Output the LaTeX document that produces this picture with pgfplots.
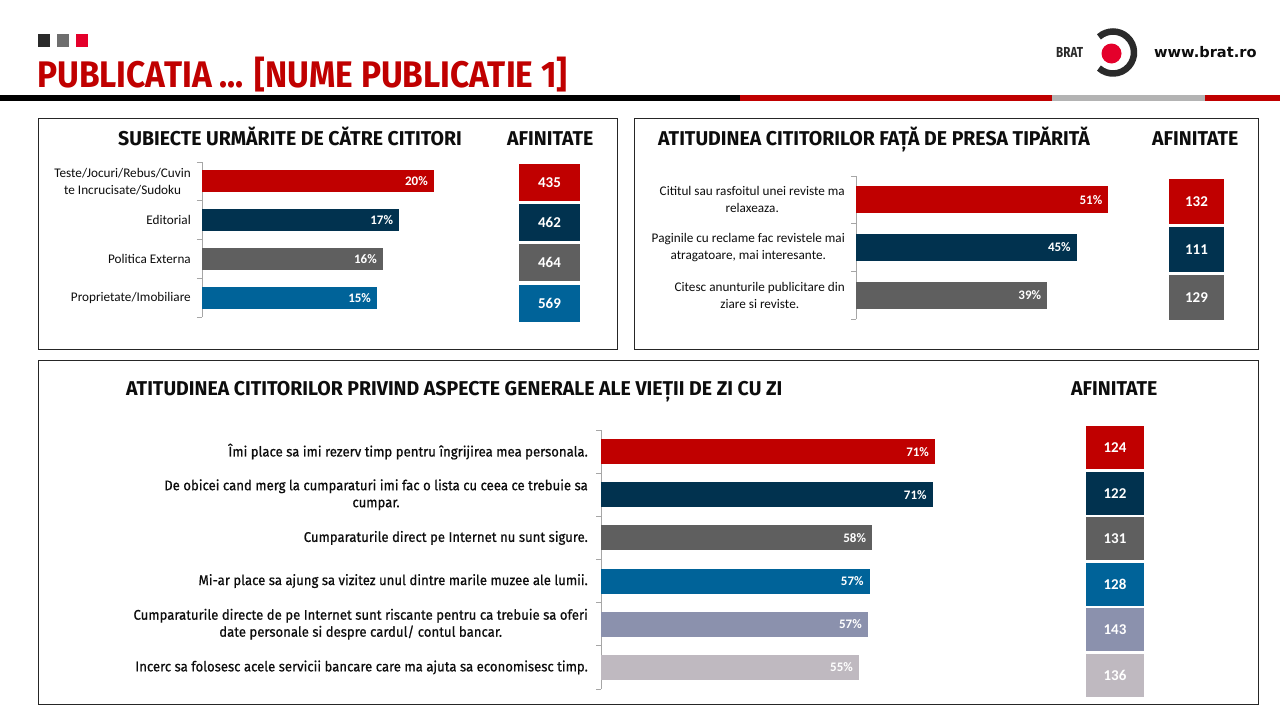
\documentclass[border=0pt]{standalone}
\usepackage{fontspec}
\setmainfont{Carlito}
\newfontfamily\dinT[FakeStretch=0.905]{Fira Sans}
\newfontfamily\dinS[FakeStretch=0.975]{Fira Sans}
\newfontfamily\dinB[FakeStretch=0.8]{Fira Sans}
\newfontfamily\dinl[FakeStretch=0.94,FakeBold=0.6]{Fira Sans}
\newfontfamily\dejab{DejaVu Sans}
\usepackage{pgfplots}
\pgfplotsset{compat=1.18}
\definecolor{cRed}{HTML}{C00000}
\definecolor{cNavy}{HTML}{01324F}
\definecolor{cGray}{HTML}{5F5F5F}
\definecolor{cBlue}{HTML}{006399}
\definecolor{cLav}{HTML}{8B91AD}
\definecolor{cLight}{HTML}{BFB9C0}
\definecolor{sqDark}{HTML}{2A2A2A}
\definecolor{sqGray}{HTML}{6E6E6E}
\definecolor{sqRed}{HTML}{E4002B}
\definecolor{bandGray}{HTML}{B3B3B3}
\definecolor{axGray}{HTML}{A6A6A6}
\definecolor{txt}{HTML}{0D0D0D}
\newcommand\lab{\fontsize{13.2}{17}\selectfont}
\newcommand\labd{\dinl\fontsize{14}{17}\selectfont}
\newcommand\val{\bfseries\fontsize{13}{13}\selectfont}
\newcommand\aff{\bfseries\fontsize{15}{15}\selectfont}
\newcommand\ttl{\dinS\bfseries\fontsize{20}{20}\selectfont}
\pgfplotsset{
  barax/.style={scale only axis, xbar, bar shift=0pt, axis x line=none, axis y line*=left,
    y dir=reverse, xmin=0, ymin=0.5, enlargelimits=false, clip=false,
    /pgf/number format/assume math mode=true,
    axis line style={draw=axGray, line width=1pt},
    major tick length=0pt, minor tick length=5pt, tick align=outside,
    minor tick style={draw=axGray, line width=1pt}, xtick=\empty,
    yticklabel style={align=center, inner sep=0pt, xshift=-11pt, text=txt},
    point meta=x,
    nodes near coords={\pgfmathprintnumber[fixed,precision=0,assume math mode=true]{\pgfplotspointmeta}\%},
    every node near coord/.style={anchor=east, xshift=-6pt, inner sep=0pt, text=white, font=\val}},
  affax/.style={scale only axis, xbar, bar shift=0pt, hide axis, y dir=reverse,
    xmin=0, xmax=1, ymin=0.5, enlargelimits=false, clip=false,
    /pgf/number format/assume math mode=true,
    point meta=explicit,
    nodes near coords={\pgfmathprintnumber[fixed,precision=0,assume math mode=true]{\pgfplotspointmeta}}}
}
\begin{document}
\begin{tikzpicture}
\useasboundingbox (0,0) rectangle (1280pt,-720pt);
\fill[white] (0,0) rectangle (1280pt,-720pt);
\begin{scope}[x=1pt,y=-1pt]
  % header squares
  \fill[sqDark] (38,34) rectangle (50,47);
  \fill[sqGray] (57,34) rectangle (69,47);
  \fill[sqRed] (76,34) rectangle (88,47);
  \node[anchor=base west, inner sep=0pt, text=cRed, font=\dinT\bfseries\fontsize{37}{37}\selectfont] at (37,87.5) {PUBLICATIA ... [NUME PUBLICATIE 1]};
  % band
  \fill[black] (0,95) rectangle (740,101);
  \fill[cRed] (740,95) rectangle (1052,101);
  \fill[bandGray] (1052,95) rectangle (1205,101);
  \fill[cRed] (1205,95) rectangle (1280,101);
  % logo
  \node[anchor=base west, inner sep=0pt, text=sqDark, font=\dinB\bfseries\fontsize{14.5}{14.5}\selectfont] at (1056,57.7) {BRAT};
  \fill[sqRed] (1111.5,53.5) circle (10);
  \draw[line width=6.5pt, sqDark] (1113,52.5) ++(132:21) arc[start angle=132, end angle=-132, radius=21];
  \node[anchor=base west, inner sep=0pt, text=txt, font=\dejab\bfseries\fontsize{14.6}{14.6}\selectfont] at (1154,57) {www.brat.ro};
  % panels
  \draw[line width=1pt, black!85] (38,118) rectangle (617,349);
  \draw[line width=1pt, black!85] (634,118) rectangle (1258,349);
  \draw[line width=1pt, black!85] (38,360) rectangle (1258,704);
  % titles
  \node[anchor=base west, inner sep=0pt, text=txt, font=\ttl] at (118,145.5) {SUBIECTE URMĂRITE DE CĂTRE CITITORI};
  \node[anchor=base west, inner sep=0pt, text=txt, font=\ttl] at (507,145.5) {AFINITATE};
  \node[anchor=base west, inner sep=0pt, text=txt, font=\ttl] at (658,145.5) {ATITUDINEA CITITORILOR FAȚĂ DE PRESA TIPĂRITĂ};
  \node[anchor=base west, inner sep=0pt, text=txt, font=\ttl] at (1152,145.5) {AFINITATE};
  \node[anchor=base west, inner sep=0pt, text=txt, font=\ttl] at (126,395) {ATITUDINEA CITITORILOR PRIVIND ASPECTE GENERALE ALE VIEȚII DE ZI CU ZI};
  \node[anchor=base west, inner sep=0pt, text=txt, font=\ttl] at (1071,395) {AFINITATE};
\end{scope}

% ---------- Panel 1 bars
\begin{axis}[barax, at={(202pt,-162pt)}, anchor=north west, width=290pt, height=155pt,
  xmax=25, ymax=4.5, bar width=22pt, ytick={1,2,3,4}, minor ytick={0.5,1.5,2.5,3.5,4.5},
  yticklabels={{Teste/Jocuri/Rebus/Cuvin\\te Incrucisate/Sudoku},{Editorial},{Politica Externa},{Proprietate/Imobiliare}},
  yticklabel style={font=\lab}]
\addplot[fill=cRed, draw=none] coordinates {(20.0,1)};
\addplot[fill=cNavy, draw=none] coordinates {(17.0,2)};
\addplot[fill=cGray, draw=none] coordinates {(15.6,3)};
\addplot[fill=cBlue, draw=none] coordinates {(15.1,4)};
\end{axis}
\begin{axis}[affax, at={(519pt,-162.4pt)}, anchor=north west, width=61pt, height=160.8pt,
  ymax=4.5, bar width=37pt,
  every node near coord/.style={anchor=center, xshift=-30.5pt, inner sep=0pt, text=white, font=\aff}]
\addplot[fill=cRed, draw=none] coordinates {(1,1) [435]};
\addplot[fill=cNavy, draw=none] coordinates {(1,2) [462]};
\addplot[fill=cGray, draw=none] coordinates {(1,3) [464]};
\addplot[fill=cBlue, draw=none] coordinates {(1,4) [569]};
\end{axis}

% ---------- Panel 2 bars
\begin{axis}[barax, at={(856pt,-176pt)}, anchor=north west, width=295.8pt, height=143pt,
  xmax=60, ymax=3.5, bar width=27pt, ytick={1,2,3}, minor ytick={0.5,1.5,2.5,3.5},
  yticklabels={{Cititul sau rasfoitul unei reviste ma\\relaxeaza.},{Paginile cu reclame fac revistele mai\\atragatoare, mai interesante.},{Citesc anunturile publicitare din\\ziare si reviste.}},
  yticklabel style={font=\lab}]
\addplot[fill=cRed, draw=none] coordinates {(51.2,1)};
\addplot[fill=cNavy, draw=none] coordinates {(44.8,2)};
\addplot[fill=cGray, draw=none] coordinates {(38.8,3)};
\end{axis}
\begin{axis}[affax, at={(1169pt,-177.5pt)}, anchor=north west, width=55pt, height=144pt,
  ymax=3.5, bar width=45pt,
  every node near coord/.style={anchor=center, xshift=-27.5pt, inner sep=0pt, text=white, font=\aff}]
\addplot[fill=cRed, draw=none] coordinates {(1,1) [132]};
\addplot[fill=cNavy, draw=none] coordinates {(1,2) [111]};
\addplot[fill=cGray, draw=none] coordinates {(1,3) [129]};
\end{axis}

% ---------- Panel 3 bars
\begin{axis}[barax, at={(601pt,-430pt)}, anchor=north west, width=376pt, height=259pt,
  xmax=80, ymax=6.5, bar width=25pt, ytick={1,2,3,4,5,6}, minor ytick={0.5,1.5,2.5,3.5,4.5,5.5,6.5},
  yticklabels={{Îmi place sa imi rezerv timp pentru îngrijirea mea personala.},
    {De obicei cand merg la cumparaturi imi fac o lista cu ceea ce trebuie sa\\cumpar.},
    {Cumparaturile direct pe Internet nu sunt sigure.},
    {Mi-ar place sa ajung sa vizitez unul dintre marile muzee ale lumii.},
    {Cumparaturile directe de pe Internet sunt riscante pentru ca trebuie sa oferi\\date personale si despre cardul/ contul bancar.},
    {Incerc sa folosesc acele servicii bancare care ma ajuta sa economisesc timp.}},
  yticklabel style={font=\labd, xshift=-2pt}]
\addplot[fill=cRed, draw=none] coordinates {(71.1,1)};
\addplot[fill=cNavy, draw=none] coordinates {(70.6,2)};
\addplot[fill=cGray, draw=none] coordinates {(57.7,3)};
\addplot[fill=cBlue, draw=none] coordinates {(57.2,4)};
\addplot[fill=cLav, draw=none] coordinates {(56.8,5)};
\addplot[fill=cLight, draw=none] coordinates {(54.9,6)};
\end{axis}
\begin{axis}[affax, at={(1086pt,-424.7pt)}, anchor=north west, width=58pt, height=273.6pt,
  ymax=6.5, bar width=43pt,
  every node near coord/.style={anchor=center, xshift=-29pt, inner sep=0pt, text=white, font=\aff}]
\addplot[fill=cRed, draw=none] coordinates {(1,1) [124]};
\addplot[fill=cNavy, draw=none] coordinates {(1,2) [122]};
\addplot[fill=cGray, draw=none] coordinates {(1,3) [131]};
\addplot[fill=cBlue, draw=none] coordinates {(1,4) [128]};
\addplot[fill=cLav, draw=none] coordinates {(1,5) [143]};
\addplot[fill=cLight, draw=none] coordinates {(1,6) [136]};
\end{axis}
\end{tikzpicture}
\end{document}
